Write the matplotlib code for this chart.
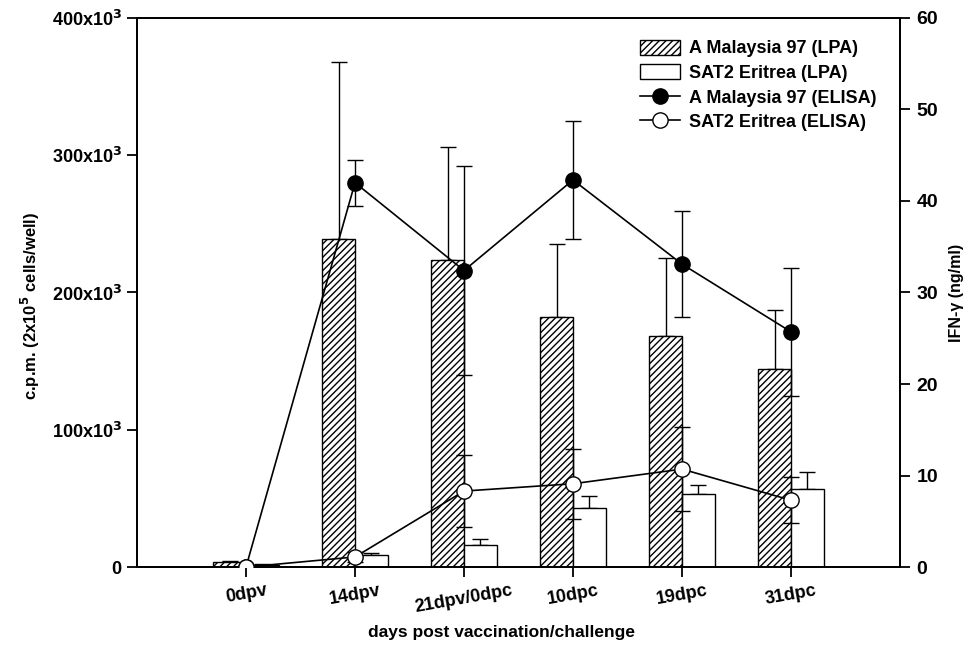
import numpy as np
import matplotlib
matplotlib.use('Agg')
import matplotlib.pyplot as plt
from matplotlib.ticker import FixedLocator

plt.rcParams['font.family'] = ['Liberation Sans', 'DejaVu Sans']
plt.rcParams['font.weight'] = 'bold'
plt.rcParams['hatch.linewidth'] = 1.0
plt.rcParams['mathtext.default'] = 'bf'

categories = ['0dpv', '14dpv', '21dpv/0dpc', '10dpc', '19dpc', '31dpc']

# LPA (left axis, c.p.m.)
lpa_malaysia = [3.5e3, 239e3, 224e3, 182e3, 168e3, 144e3]
lpa_malaysia_err = [1e3, 129e3, 82e3, 53e3, 57e3, 43e3]
lpa_sat2 = [1.5e3, 9e3, 16e3, 43e3, 53e3, 57e3]
lpa_sat2_err = [0.5e3, 1.5e3, 4.5e3, 9e3, 7e3, 12e3]

# ELISA (right axis, ng/ml)
elisa_malaysia = [0.0, 42.0, 32.4, 42.3, 33.1, 25.7]
elisa_malaysia_err = [0.0, 2.5, 11.4, 6.4, 5.8, 7.0]
elisa_sat2 = [0.0, 1.1, 8.3, 9.1, 10.7, 7.3]
elisa_sat2_err = [0.0, 0.5, 3.9, 3.8, 4.6, 2.5]

x = np.arange(len(categories))
w = 0.3

fig = plt.figure(figsize=(9.67, 6.51), dpi=100)
ax = fig.add_axes([0.1417, 0.129, 0.7890, 0.8434])
ax2 = ax.twinx()

ax.bar(x - w / 2, lpa_malaysia, w, color='white', edgecolor='black', hatch='/////',
       linewidth=1.0, label='A Malaysia 97 (LPA)', zorder=2)
ax.bar(x + w / 2, lpa_sat2, w, color='white', edgecolor='black',
       linewidth=1.0, label='SAT2 Eritrea (LPA)', zorder=2)
ax.errorbar(x - w / 2, lpa_malaysia, yerr=[np.zeros(6), lpa_malaysia_err], fmt='none',
            ecolor='black', elinewidth=1.0, capsize=6, capthick=1.0, zorder=1)
ax.errorbar(x + w / 2, lpa_sat2, yerr=[np.zeros(6), lpa_sat2_err], fmt='none',
            ecolor='black', elinewidth=1.0, capsize=6, capthick=1.0, zorder=1)

ax2.errorbar(x, elisa_malaysia, yerr=elisa_malaysia_err, fmt='none', ecolor='black',
             elinewidth=1.0, capsize=6, capthick=1.0, zorder=3)
ax2.errorbar(x, elisa_sat2, yerr=elisa_sat2_err, fmt='none', ecolor='black',
             elinewidth=1.0, capsize=6, capthick=1.0, zorder=3)
l1, = ax2.plot(x, elisa_malaysia, '-o', color='black', markerfacecolor='black',
               markersize=11, linewidth=1.2, label='A Malaysia 97 (ELISA)', zorder=4)
l2, = ax2.plot(x, elisa_sat2, '-o', color='black', markerfacecolor='white',
               markersize=11, linewidth=1.2, label='SAT2 Eritrea (ELISA)', zorder=5)

ax.set_xlim(-1, 6)
ax.set_ylim(0, 400e3)
ax2.set_ylim(0, 60)

ax.yaxis.set_major_locator(FixedLocator([0, 100e3, 200e3, 300e3, 400e3]))
ax.set_yticklabels(['0', '100x10$^{\\mathsf{3}}$', '200x10$^{\\mathsf{3}}$',
                    '300x10$^{\\mathsf{3}}$', '400x10$^{\\mathsf{3}}$'],
                   fontsize=13, fontweight='bold')
ax2.set_yticks([0, 10, 20, 30, 40, 50, 60])
ax2.set_yticklabels(['0', '10', '20', '30', '40', '50', '60'], fontsize=14, fontweight='bold')

ax.set_xticks(x)
ax.set_xticklabels(categories, rotation=10, fontsize=13, fontweight='bold', ha='center')

for a in (ax, ax2):
    for s in a.spines.values():
        s.set_linewidth(1.3)
ax.tick_params(axis='both', direction='out', length=7, width=1.3, pad=4)
ax2.tick_params(axis='y', direction='out', length=7, width=1.3, pad=5)

ax.set_xlabel('days post vaccination/challenge', fontsize=12.5, fontweight='bold')
ax.xaxis.set_label_coords(0.478, -0.105)
ax.set_ylabel('c.p.m. (2x10$^{5}$ cells/well)', fontsize=12, fontweight='bold')
ax.yaxis.set_label_coords(-0.125, 0.475)
ax2.set_ylabel('IFN-\u03b3 (ng/ml)', fontsize=11.5, fontweight='bold', labelpad=8)

handles, labels = ax.get_legend_handles_labels()
leg = ax2.legend(handles + [l1, l2], labels + [l1.get_label(), l2.get_label()],
                 loc='upper right', bbox_to_anchor=(0.99, 0.99), frameon=False,
                 handlelength=2.2, handleheight=0.9, labelspacing=0.38,
                 handletextpad=0.5, prop={'weight': 'bold', 'size': 13})

fig.savefig('out.png', dpi=100)
